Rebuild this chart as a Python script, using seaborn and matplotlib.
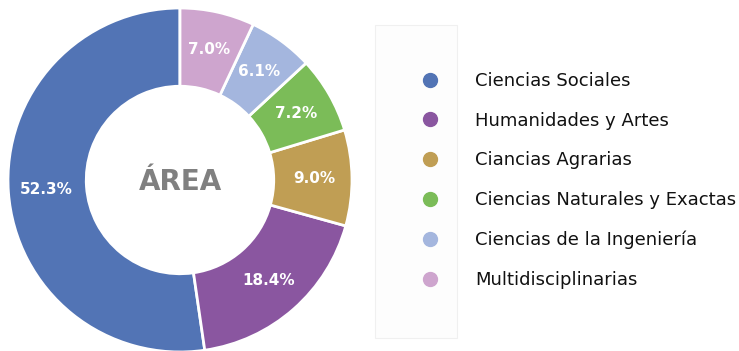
import matplotlib
matplotlib.use("Agg")
import matplotlib.pyplot as plt
from matplotlib.lines import Line2D
from matplotlib.patches import Rectangle
import seaborn as sns

sns.set_theme(style="white")
plt.rcParams['font.family'] = ['DejaVu Sans']

# Distribution by area
categories = [
    "Ciencias Sociales",
    "Humanidades y Artes",
    "Ciancias Agrarias",
    "Ciencias Naturales y Exactas",
    "Ciencias de la Ingeniería",
    "Multidisciplinarias",
]
shares = [52.3, 18.4, 9.0, 7.2, 6.1, 7.0]
colors = ["#5274B5", "#8A56A0", "#C09E54", "#7BBC58", "#A4B6DE", "#CEA5CE"]
center_label = "ÁREA"

W, H = 739, 351
fig = plt.figure(figsize=(W / 100, H / 100), dpi=100)
fig.patch.set_facecolor("white")

# Donut axes
ax = fig.add_axes([8 / W, -1 / H, 344 / W, 344 / H])
wedges, texts, autotexts = ax.pie(
    shares,
    colors=colors,
    startangle=90,
    counterclock=True,
    radius=1.0,
    autopct=lambda p: f"{p:.1f}%",
    pctdistance=0.78,
    wedgeprops=dict(width=0.455, edgecolor="white", linewidth=2),
    textprops=dict(color="white", fontsize=11, fontweight="bold"),
)
ax.set_xlim(-1, 1)
ax.set_ylim(-1, 1)
ax.set_aspect("equal")
ax.axis("off")
ax.text(0, -0.01, center_label, ha="center", va="center", fontsize=20,
        fontweight="bold", color="#808080")

# Legend panel
fig.patches.append(Rectangle((375 / W, 1 - 338 / H), 82 / W, 313 / H,
                             transform=fig.transFigure, facecolor="#FDFDFD",
                             edgecolor="#F0F0F0", linewidth=0.8, zorder=0))

handles = [Line2D([0], [0], marker="o", linestyle="", markersize=10,
                  markerfacecolor=c, markeredgecolor=c) for c in colors]
leg = fig.legend(handles, categories, loc="upper left",
                 bbox_to_anchor=(412 / W, 1 - 72 / H), frameon=False,
                 fontsize=13, labelspacing=1.2, handletextpad=1.49,
                 borderaxespad=0, borderpad=0)
for t in leg.get_texts():
    t.set_color("#111111")

fig.savefig("out.png", dpi=100, facecolor="white")
